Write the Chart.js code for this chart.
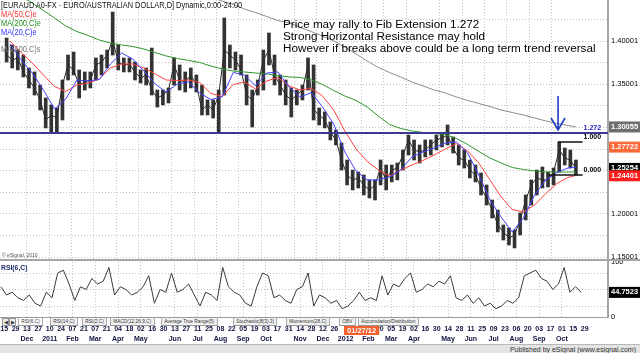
<!DOCTYPE html>
<html><head><meta charset="utf-8">
<script src="https://cdn.jsdelivr.net/npm/chart.js@4.4.1/dist/chart.umd.min.js"></script>
<style>
html,body{margin:0;padding:0;background:#fff;width:640px;height:353px;overflow:hidden;font-family:"Liberation Sans",Arial,sans-serif;}
#wrap{position:relative;width:640px;height:353px;overflow:hidden;}
canvas{position:absolute;left:0;}
#c1{top:0;}
#c2{top:255px;}
.lg{position:absolute;left:1px;font-size:9px;line-height:9px;white-space:nowrap;transform:scaleX(0.82);transform-origin:0 0;}
#note{position:absolute;left:283px;top:18px;font-size:11.7px;line-height:12px;color:#000;white-space:nowrap;}
#copy{position:absolute;left:2px;top:252px;font-size:5px;color:#555;white-space:nowrap;}
#sep1{position:absolute;left:0;top:259px;width:640px;height:2px;background:#a6a6a6;}
#rsilbl{position:absolute;left:1px;top:263px;font-size:8px;font-weight:bold;color:#1d2a6e;transform:scaleX(0.85);transform-origin:0 0;}
#tabs{position:absolute;left:0;top:317px;width:608px;height:8px;border-top:1px solid #9a9a9a;background:#fff;}
.tab{position:absolute;top:0;height:7px;font-size:6px;line-height:7px;color:#333;white-space:nowrap;border-left:1px solid #999;border-right:1px solid #999;border-bottom:1px solid #999;padding:0 3px;background:#f2f2f2;transform:scaleX(0.8);transform-origin:0 0;}
.tab.act{background:#fff;}
.arr{position:absolute;top:0;width:5px;height:6px;border:1px solid #999;font-size:5px;line-height:6px;text-align:center;color:#333;background:#eee;}
#foot{position:absolute;left:0;top:344px;width:640px;height:9px;background:#e4e4e4;border-top:1px solid #b8b8b8;}
#foot span{position:absolute;right:4px;top:0;font-size:7px;line-height:9px;color:#333;}
</style></head>
<body><div id="wrap">
<canvas id="c1" width="640" height="259"></canvas>
<canvas id="c2" width="640" height="90"></canvas>
<div class="lg" style="top:1px;color:#111">[EURAUD A0-FX - EURO/AUSTRALIAN DOLLAR,D] Dynamic,0:00-24:00</div>
<div class="lg" style="top:10px;color:#ff3030">MA(50,C)e</div>
<div class="lg" style="top:19px;color:#1f8f1f">MA(200,C)e</div>
<div class="lg" style="top:28px;color:#3030ff">MA(20,C)e</div>
<div class="lg" style="top:45px;color:#777">MA(600,C)s</div>
<div id="note">Price may rally to Fib Extension 1.272<br>Strong Horizontal Resistance may hold<br>However if breaks above could be a long term trend reversal</div>
<div id="copy">© eSignal, 2010</div>
<div id="sep1"></div>
<div id="rsilbl">RSI(6,C)</div>
<div id="tabs">
<div class="arr" style="left:2px">◀</div><div class="arr" style="left:9px">▶</div>
<div class="tab act" style="left:18px">RSI(6,C)</div>
<div class="tab" style="left:50px">RSI(14,C)</div>
<div class="tab" style="left:82px">RSI(2,C)</div>
<div class="tab" style="left:110px">MACD(12,26,9,C)</div>
<div class="tab" style="left:161px">Average True Range(5)</div>
<div class="tab" style="left:233px">Stochastic(8(3),3)</div>
<div class="tab" style="left:286px">Momentum(28,C)</div>
<div class="tab" style="left:339px">OBV</div>
<div class="tab" style="left:358px">Accumulation/Distribution</div>
</div>
<div id="foot"><span>Published by eSignal (www.esignal.com)</span></div>
</div>
<script>
// ---- week index: 0 = week of 15 Nov 2010; first bar is the week of 8 Nov 2010
const firstWeek = -1;
const barHigh = [1.4035,1.3954,1.3896,1.3838,1.3688,1.3642,1.3491,1.3341,1.3260,1.3225,1.3549,1.3838,1.3873,1.3665,1.3642,1.3642,1.3804,1.3838,1.3896,1.4336,1.3954,1.3804,1.3804,1.3757,1.3665,1.3688,1.3919,1.3433,1.3433,1.3457,1.3804,1.3723,1.3642,1.3688,1.3607,1.3491,1.3318,1.3318,1.3433,1.4267,1.3954,1.3873,1.3838,1.3607,1.3433,1.3549,1.3896,1.4093,1.3838,1.3607,1.3549,1.3457,1.3433,1.3491,1.3804,1.3723,1.3225,1.3179,1.3063,1.2970,1.2820,1.2623,1.2507,1.2484,1.2449,1.2392,1.2392,1.2623,1.2565,1.2565,1.2588,1.2739,1.2912,1.2855,1.2797,1.2855,1.2855,1.2912,1.2936,1.3028,1.2889,1.2797,1.2739,1.2623,1.2565,1.2473,1.2334,1.2160,1.2044,1.1871,1.1836,1.1813,1.2010,1.2218,1.2392,1.2507,1.2542,1.2484,1.2530,1.2831,1.2762,1.2739,1.2623];
const barLow = [1.3757,1.3688,1.3665,1.3584,1.3457,1.3375,1.3202,1.2994,1.2936,1.2936,1.3086,1.3549,1.3607,1.3341,1.3433,1.3457,1.3549,1.3607,1.3688,1.3838,1.3665,1.3642,1.3642,1.3549,1.3514,1.3491,1.3375,1.3236,1.3260,1.3283,1.3491,1.3433,1.3410,1.3457,1.3410,1.3144,1.3144,1.3109,1.2947,1.3375,1.3688,1.3665,1.3607,1.3260,1.3005,1.3375,1.3433,1.3723,1.3491,1.3375,1.3260,1.3121,1.3260,1.3318,1.3433,1.3086,1.3028,1.2994,1.2855,1.2797,1.2507,1.2334,1.2276,1.2299,1.2218,1.2183,1.2160,1.2334,1.2276,1.2369,1.2392,1.2507,1.2681,1.2623,1.2588,1.2658,1.2681,1.2739,1.2774,1.2797,1.2704,1.2565,1.2530,1.2415,1.2369,1.2218,1.2102,1.1952,1.1790,1.1697,1.1639,1.1605,1.1755,1.1929,1.2102,1.2218,1.2299,1.2311,1.2334,1.2484,1.2565,1.2530,1.2449];
const barClose = [1.3838,1.3781,1.3804,1.3642,1.3549,1.3457,1.3318,1.3086,1.3144,1.3109,1.3491,1.3723,1.3665,1.3491,1.3526,1.3549,1.3723,1.3757,1.3838,1.4012,1.3757,1.3723,1.3734,1.3642,1.3572,1.3607,1.3433,1.3341,1.3375,1.3433,1.3723,1.3549,1.3526,1.3607,1.3491,1.3202,1.3260,1.3202,1.3375,1.3896,1.3838,1.3781,1.3665,1.3375,1.3318,1.3491,1.3781,1.3896,1.3607,1.3491,1.3375,1.3318,1.3375,1.3433,1.3723,1.3202,1.3144,1.3086,1.2947,1.2855,1.2623,1.2449,1.2392,1.2415,1.2334,1.2276,1.2334,1.2530,1.2392,1.2507,1.2530,1.2681,1.2855,1.2739,1.2716,1.2739,1.2797,1.2855,1.2878,1.2912,1.2762,1.2646,1.2623,1.2507,1.2449,1.2299,1.2183,1.2044,1.1871,1.1790,1.1720,1.1755,1.1929,1.2160,1.2334,1.2415,1.2392,1.2392,1.2484,1.2739,1.2646,1.2623,1.2525];
// moving averages, read every two weeks
const maWeeks = [0,2,4,6,8,10,12,14,16,18,20,22,24,26,28,30,32,34,36,38,40,42,44,46,48,50,52,54,56,58,60,62,64,66,68,70,72,74,76,78,80,82,84,86,88,90,92,94,96,98,100,101.4];
const ma20 = [1.3966,1.3781,1.3630,1.3433,1.3213,1.3329,1.3549,1.3537,1.3555,1.3734,1.3862,1.3792,1.3653,1.3503,1.3410,1.3503,1.3526,1.3399,1.3323,1.3352,1.3636,1.3607,1.3480,1.3630,1.3642,1.3468,1.3352,1.3404,1.3237,1.3040,1.2716,1.2496,1.2392,1.2392,1.2426,1.2507,1.2658,1.2716,1.2762,1.2820,1.2832,1.2704,1.2450,1.2160,1.1963,1.1790,1.1952,1.2218,1.2392,1.2479,1.2531,1.2542];
const ma50 = [1.4000,1.3867,1.3746,1.3607,1.3474,1.3416,1.3491,1.3514,1.3561,1.3688,1.3734,1.3734,1.3688,1.3619,1.3549,1.3543,1.3549,1.3520,1.3393,1.3358,1.3497,1.3526,1.3445,1.3537,1.3578,1.3480,1.3433,1.3451,1.3364,1.3202,1.2959,1.2750,1.2606,1.2507,1.2438,1.2507,1.2565,1.2617,1.2681,1.2750,1.2814,1.2727,1.2588,1.2392,1.2195,1.2050,1.2021,1.2102,1.2235,1.2351,1.2421,1.2444];
const ma200 = [1.4614,1.4527,1.4440,1.4353,1.4267,1.4174,1.4110,1.4064,1.4012,1.3977,1.3954,1.3937,1.3908,1.3867,1.3827,1.3798,1.3775,1.3752,1.3711,1.3676,1.3653,1.3642,1.3630,1.3619,1.3601,1.3584,1.3578,1.3549,1.3497,1.3428,1.3364,1.3312,1.3237,1.3132,1.3034,1.2988,1.2959,1.2941,1.2930,1.2918,1.2872,1.2803,1.2722,1.2646,1.2588,1.2536,1.2513,1.2496,1.2484,1.2484,1.2484,1.2484];
const ma600Weeks = [36,38,40,42,44,46,48,50,52,54,56,58,60,62,64,66,68,70,72,74,76,78,80,82,84,86,88,90,92,94,96,98,100,101.4];
const ma600 = [1.4510,1.4463,1.4423,1.4371,1.4330,1.4284,1.4238,1.4209,1.4157,1.4110,1.4058,1.4000,1.3931,1.3850,1.3769,1.3694,1.3636,1.3584,1.3526,1.3480,1.3433,1.3399,1.3352,1.3312,1.3277,1.3242,1.3202,1.3173,1.3144,1.3109,1.3075,1.3046,1.3022,1.3005];
// RSI(6,C), weekly readings
const rsi6 = [55,40,45,35,30,40,25,20,45,35,80,85,60,30,55,50,70,60,65,90,40,55,50,40,45,55,75,25,50,45,80,45,50,60,40,20,45,40,30,90,55,45,40,25,20,55,80,75,35,40,30,25,50,55,80,20,40,35,25,30,15,20,30,45,30,35,30,75,40,60,55,70,80,45,50,60,55,65,60,75,35,30,40,25,35,20,25,15,20,30,25,35,75,80,85,70,65,50,60,90,45,55,44.75];
// price axis
const priceGrid = [1.150,1.175,1.200,1.225,1.250,1.275,1.300,1.325,1.350,1.375,1.400,1.425];
const priceGridLabels = ['1.15001','','1.20001','','','','','','1.35001','','1.40001',''];
const boxValues = [1.30055,1.27722,1.25254,1.24401];
const boxLabels = ['1.30055','1.27722','1.25254','1.24401'];
const boxColors = ['#6e6e6e','#ff6a3a','#000000','#ff1e1e'];
const rsiGrid = [20,50,80];
const rsiLabelVals = [100,0];
const rsiLast = 44.7523;
// fibonacci / annotation
const resistance = 1.2935;
const fibValues = [1.2935,1.2831,1.2449];
const fibLabels = ['1.272','1.000','0.000'];
const fibStartWeeks = [null,98.2,96.5];
const fibEndWeek = 102.6;
const arrowWeek = 98.2, arrowFrom = 1.3364, arrowTo = 1.2970;
// date axis (ticks every two weeks)
const dayLabels = ['15','29','13','27','10','24','07','21','07','21','04','18','02','16','30','13','27','11','25','08','22','05','19','03','17','31','14','28','12','26','','','','20','05','19','02','16','30','14','28','11','25','09','23','06','20','03','17','01','15','29'];
const monthLabels = ['','','Dec','','2011','','Feb','','Mar','','Apr','','May','','','Jun','','Jul','','Aug','','Sep','','Oct','','','Nov','','Dec','','2012','','Feb','','Mar','','Apr','','','May','','Jun','','Jul','','Aug','','Sep','','Oct','',''];
const gridTickIdx = [2,4,6,8,10,12,15,17,19,21,23,26,28,30,32,34,36,39,41,43,45,47,49];
const cursorWeek = 62.8, cursorLabel = '01/27/12';

const xMin = -0.74, xMax = 106.1;
const FONT = '"Liberation Sans", Arial, sans-serif';
Chart.defaults.font.family = FONT;

const pts = (xs, ys) => ys.map((v,i)=>({x:xs[i], y:v}));
const barX = i => firstWeek + i + 0.4;
const barData = barHigh.map((h,i)=>({x:barX(i), y:[barLow[i], h]}));
const closeData = barClose.map((c,i)=>({x:barX(i), y:c}));
const rsiData = rsi6.map((r,i)=>({x:barX(i), y:r}));

const tickWeeks = dayLabels.map((d,i)=>i*2);

function xAxis(showLabels){
  return {
    type:'linear', min:xMin, max:xMax,
    afterBuildTicks: s => { s.ticks = tickWeeks.map(v=>({value:v})); },
    afterFit: s => { s.height = showLabels ? 28 : 0; s.paddingLeft = 0; s.paddingRight = 0; },
    grid: { color: c => (c.index !== undefined && gridTickIdx.includes(c.index)) ? '#c4c4c4' : 'rgba(0,0,0,0)', drawTicks:false, lineWidth:1 },
    border: { display:false, dash:[1,2] },
    ticks: showLabels ? {
      display:true, autoSkip:false, maxRotation:0, padding:8,
      font:{size:7, weight:'bold', family:FONT, lineHeight:1.3}, color:'#10123f',
      callback:(v,i)=>[dayLabels[i], monthLabels[i]]
    } : {display:false}
  };
}

const priceTicks = priceGrid.concat(boxValues);
const nG = priceGrid.length;

const annot = {
  id:'annot',
  afterDatasetsDraw(chart){
    const {ctx, chartArea:a, scales:{x,y}} = chart;
    ctx.save();
    const ry = y.getPixelForValue(resistance);
    ctx.strokeStyle = '#3a3a92'; ctx.lineWidth = 2;
    ctx.beginPath(); ctx.moveTo(a.left, ry); ctx.lineTo(a.right, ry); ctx.stroke();
    const xe = x.getPixelForValue(fibEndWeek);
    ctx.font = 'bold 7px ' + FONT; ctx.textBaseline = 'bottom'; ctx.textAlign='left';
    fibValues.forEach((v,i)=>{
      const py = y.getPixelForValue(v);
      if (fibStartWeeks[i] !== null){
        ctx.strokeStyle = '#111'; ctx.lineWidth = 1.5;
        ctx.beginPath(); ctx.moveTo(x.getPixelForValue(fibStartWeeks[i]), py); ctx.lineTo(xe, py); ctx.stroke();
      }
      ctx.fillStyle = i===0 ? '#2a2ac0' : '#000';
      ctx.fillText(fibLabels[i], xe+1, py-1);
    });
    const ax = x.getPixelForValue(arrowWeek), a0 = y.getPixelForValue(arrowFrom), a1 = y.getPixelForValue(arrowTo);
    ctx.strokeStyle = '#1f3fc0'; ctx.lineWidth = 1.6;
    ctx.beginPath(); ctx.moveTo(ax, a0); ctx.lineTo(ax, a1);
    ctx.moveTo(ax-7, a1-12); ctx.lineTo(ax, a1); ctx.lineTo(ax+7, a1-12); ctx.stroke();
    ctx.restore();
  }
};

new Chart(document.getElementById('c1'), {
  type:'bar',
  data:{ datasets:[
    {type:'line', data:pts(maWeeks, ma20), borderColor:'#4040ff', borderWidth:1, pointRadius:0, order:1},
    {type:'line', data:pts(maWeeks, ma50), borderColor:'#ff4040', borderWidth:1, pointRadius:0, order:1},
    {type:'line', data:pts(maWeeks, ma200), borderColor:'#2d962d', borderWidth:1, pointRadius:0, order:1},
    {type:'line', data:pts(ma600Weeks, ma600), borderColor:'#8c8c8c', borderWidth:1, pointRadius:0, order:1},
    {type:'line', data:closeData, borderColor:'#2a2a2a', borderWidth:1, pointRadius:0, order:2},
    {type:'bar', data:barData, backgroundColor:'#333333', barThickness:3, grouped:false, order:3}
  ]},
  options:{
    responsive:false, animation:false, devicePixelRatio:1,
    layout:{padding:0},
    plugins:{legend:{display:false}, tooltip:{enabled:false}},
    scales:{
      x: xAxis(false),
      y:{
        position:'right', min:1.1477, max:1.4475,
        afterBuildTicks: s => { s.ticks = priceTicks.map(v=>({value:v})); },
        afterFit: s => { s.width = 32; s.paddingTop = 0; s.paddingBottom = 0; },
        grid:{ color: c => (c.index !== undefined && c.index < nG) ? '#c4c4c4' : 'rgba(0,0,0,0)', drawTicks:false },
        border:{ display:true, color:'#a6a6a6', width:2, dash:[1,2] },
        ticks:{
          autoSkip:false, padding:3,
          font: c => ({size:7.5, weight: c.index >= nG ? 'bold' : 'normal', family:FONT}),
          color: c => c.index >= nG ? '#fff' : '#000',
          showLabelBackdrop: c => c.index >= nG,
          backdropColor: c => c.index >= nG ? boxColors[c.index-nG] : 'rgba(0,0,0,0)',
          backdropPadding:{top:1,bottom:1,left:2,right:6},
          callback:(v,i)=> i < nG ? priceGridLabels[i] : boxLabels[i-nG]
        }
      }
    }
  },
  plugins:[annot]
});

const rsiTicks = rsiGrid.concat(rsiLabelVals, [rsiLast]);
const cursorPlugin = {
  id:'cursor',
  afterDraw(chart){
    const {ctx, chartArea:a, scales:{x}} = chart;
    const cx = x.getPixelForValue(cursorWeek);
    ctx.save();
    ctx.font = 'bold 7.5px ' + FONT;
    const w = ctx.measureText(cursorLabel).width + 6;
    ctx.fillStyle = '#f4602e';
    ctx.fillRect(cx - w/2, a.bottom + 8, w, 10);
    ctx.fillStyle = '#fff'; ctx.textAlign='center'; ctx.textBaseline='middle';
    ctx.fillText(cursorLabel, cx, a.bottom + 13.5);
    ctx.restore();
  }
};

new Chart(document.getElementById('c2'), {
  type:'line',
  data:{ datasets:[
    {data:rsiData, borderColor:'#3a3a3a', borderWidth:1, pointRadius:0}
  ]},
  options:{
    responsive:false, animation:false, devicePixelRatio:1,
    layout:{padding:{top:7,left:0,right:0,bottom:0}},
    plugins:{legend:{display:false}, tooltip:{enabled:false}},
    scales:{
      x: xAxis(true),
      y:{
        position:'right', min:0, max:100,
        afterBuildTicks: s => { s.ticks = rsiTicks.map(v=>({value:v})); },
        afterFit: s => { s.width = 32; s.paddingTop = 0; s.paddingBottom = 0; },
        grid:{ color: c => (c.index !== undefined && c.index < rsiGrid.length) ? '#c4c4c4' : 'rgba(0,0,0,0)', drawTicks:false },
        border:{ display:true, color:'#a6a6a6', width:2, dash:[1,2] },
        ticks:{
          autoSkip:false, padding:3,
          font: c => ({size:7.5, weight: c.index === rsiTicks.length-1 ? 'bold':'normal', family:FONT}),
          color: c => c.index === rsiTicks.length-1 ? '#fff' : '#000',
          showLabelBackdrop: c => c.index === rsiTicks.length-1,
          backdropColor: c => c.index === rsiTicks.length-1 ? '#000' : 'rgba(0,0,0,0)',
          backdropPadding:{top:1,bottom:1,left:2,right:6},
          callback:(v,i)=> i < rsiGrid.length ? '' : (i === rsiTicks.length-1 ? rsiLast.toFixed(4) : String(v))
        }
      }
    }
  },
  plugins:[cursorPlugin]
});
</script>
</body></html>
